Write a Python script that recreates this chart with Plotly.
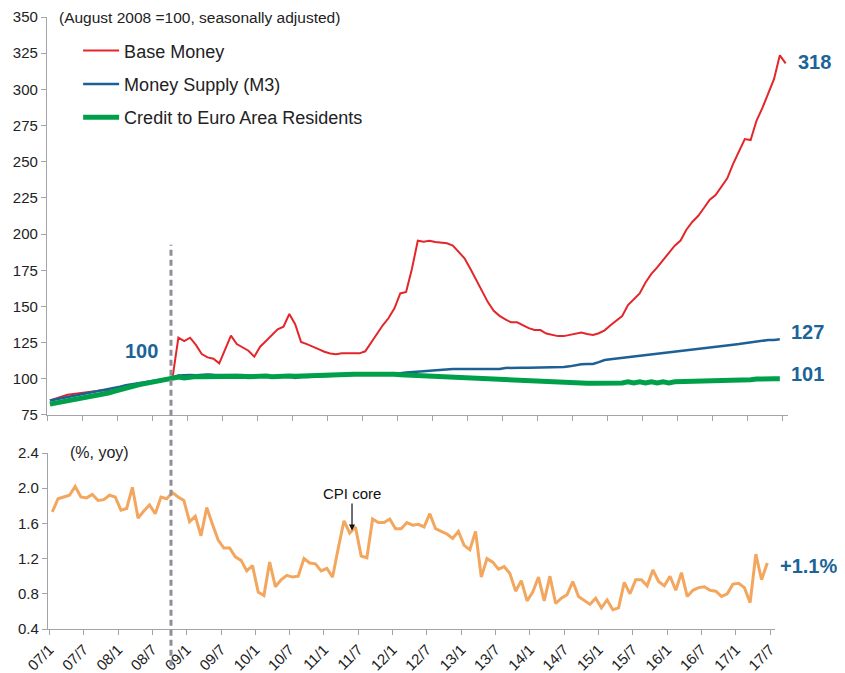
import plotly.graph_objects as go

# ---------------- data ----------------
tick_labels = ["07/1", "07/7", "08/1", "08/7", "09/1", "09/7", "10/1", "10/7", "11/1", "11/7",
               "12/1", "12/7", "13/1", "13/7", "14/1", "14/7", "15/1", "15/7", "16/1", "16/7",
               "17/1", "17/7"]

base_money = [85, 86.5, 88, 89, 89.5, 90, 90.5, 91, 91.5, 92, 91.5, 91.3, 92, 93.2, 95.3, 96.3, 97, 97.5, 98, 98.8,
              99.5, 100.8, 128.4, 126, 128.4, 123.4, 117.1, 114.8, 113.9, 110.7, 120, 129.8, 124, 121.7, 119.4, 115.3,
              122.2, 126.1, 130, 134.2, 136, 144.8, 137.7, 125.5, 124, 122.5, 120.5, 118.7, 117.5, 116.9, 117.6, 117.6,
              117.6, 117.6, 119, 125, 131, 137, 142, 148.7, 159, 160, 176, 195.4, 194.7, 195.4, 194.5, 194, 193.6, 192,
              187.4, 183.3, 176, 168, 161, 153, 147, 143.5, 141, 139, 139, 137, 135, 133.7, 133.7, 131.3, 130.3, 129.5,
              129.5, 130.5, 131.3, 132, 131, 130.3, 131.5, 133.5, 137, 140.5, 143.4, 151, 155, 159, 166.5, 172.5, 177,
              182, 187, 192, 195.5, 203, 208.4, 212.5, 218, 223.8, 227, 233, 238.5, 248.5, 257, 265.7, 265, 278.3, 287,
              297, 307, 323.5, 318]

money_m3 = [85, 85.8, 86.6, 87.4, 88.1, 88.8, 89.5, 90.2, 90.9, 91.7, 92.5, 93.5, 94.5, 95.5, 96.2, 97, 97.7, 98.3,
            98.9, 99.5, 100, 100.8, 102.3, 102.6, 102.6, 102.5, 102.8, 103, 102.8, 102.6, 102.6, 102.6, 102.6, 102.5,
            102.3, 102, 101.8, 101.5, 101.5, 101.3, 101.8, 101.5, 100.5, 101.2, 101.3, 101.5, 101.8, 102, 102.2, 102.5,
            102.8, 103, 103, 103.2, 103.3, 103.3, 103.3, 103.3, 103.5, 103.5, 103.8, 104.3, 104.8, 105, 105.3, 105.6,
            106, 106.3, 106.6, 106.8, 106.8, 106.8, 106.8, 106.8, 106.8, 106.8, 106.8, 106.8, 107.5, 107.7, 107.7,
            107.7, 107.7, 107.7, 107.7, 107.7, 107.7, 107.7, 108.2, 108.6, 109.4, 110, 110.2, 110.3, 111.5, 113, 113.5,
            114, 114.3, 114.8, 115.3, 115.8, 116.3, 116.7, 117.3, 117.8, 118.3, 118.8, 119.4, 119.8, 120.2, 120.6,
            121.2, 121.8, 122.3, 122.8, 123.3, 123.6, 124, 124.6, 125.2, 125.6, 126.3, 126.8, 126.8, 127.3]

credit = [82.5, 83.2, 83.9, 84.6, 85.3, 86, 86.8, 87.6, 88.4, 89.2, 90.2, 91.4, 92.6, 93.8, 94.8, 95.7, 96.5, 97.3,
          98, 98.7, 99.4, 100.5, 101.2, 100.6, 101.4, 101.5, 101.5, 101.6, 101.6, 101.5, 101.7, 101.5, 101.6, 101.8,
          101.4, 101.8, 101.6, 101.9, 101.5, 101.9, 101.8, 102, 101.8, 102, 102.3, 102.6, 102.6, 102.6, 102.8, 103.2,
          103.2, 103.3, 103.2, 103.1, 103.2, 103.3, 103.3, 103.3, 103.3, 103.2, 102.8, 102.6, 102.6, 102.6, 102.6,
          102.4, 101.8, 101.4, 101, 100.8, 100.8, 100.8, 100.8, 100.6, 100.3, 99.8, 99.6, 99.4, 99.2, 99.2, 99.2,
          98.9, 98.6, 98.5, 98.4, 98, 97.6, 97.5, 97.4, 97.2, 97, 96.9, 96.9, 96.9, 96.9, 96.9, 96.9, 96.9, 97.1,
          97.9, 97.2, 97.9, 97.1, 97.9, 97.2, 97.9, 97.2, 97.9, 98, 98, 98, 98, 98, 98, 98.1, 98.6, 98.8, 99.1, 99.2,
          99.3, 99.3, 99.8, 100.1, 100.1, 100.1, 100.1]

cpi_core = [1.73, 1.88, 1.90, 1.92, 2.02, 1.90, 1.89, 1.93, 1.86, 1.87,
            1.92, 1.90, 1.75, 1.77, 2.01, 1.66, 1.74, 1.81, 1.71, 1.90,
            1.88, 1.95, 1.90, 1.86, 1.62, 1.68, 1.46, 1.78, 1.59, 1.41,
            1.32, 1.32, 1.22, 1.18, 1.06, 1.12, 0.82, 0.78, 1.16, 0.88,
            0.96, 1.01, 0.99, 1.00, 1.20, 1.15, 1.14, 1.06, 1.09, 0.99,
            1.32, 1.63, 1.49, 1.56, 1.23, 1.21, 1.65, 1.61, 1.61, 1.65,
            1.54, 1.54, 1.61, 1.58, 1.59, 1.56, 1.71, 1.54, 1.51, 1.48,
            1.43, 1.51, 1.35, 1.30, 1.51, 0.99, 1.20, 1.16, 1.08, 1.11,
            1.03, 0.83, 0.95, 0.72, 0.82, 0.99, 0.72, 1.00, 0.69, 0.75,
            0.79, 0.94, 0.77, 0.72, 0.68, 0.75, 0.64, 0.73, 0.62, 0.64,
            0.93, 0.80, 0.96, 0.96, 0.89, 1.07, 0.94, 0.89, 1.00, 0.84,
            1.04, 0.77, 0.84, 0.87, 0.88, 0.84, 0.83, 0.77, 0.80, 0.91,
            0.92, 0.87, 0.70, 1.25, 0.96, 1.15]

# month index (0 = Jan 2007)
def idx(series):
    return list(range(len(series)))

tick_vals = [6 * k - 0.5 for k in range(len(tick_labels))]
lehman_month = 20.75

# ---------------- style ----------------
FONT = "Arial, Liberation Sans, Helvetica, sans-serif"
RED = "#E4262B"
BLUE = "#1D6096"
GREEN = "#00A04B"
ORANGE = "#F3A65E"
LABEL = "#1C6497"
AXIS = "#A3A4AA"

fig = go.Figure()
fig.add_trace(go.Scatter(x=idx(base_money), y=base_money, mode="lines", name="Base Money",
                         line=dict(color=RED, width=2), xaxis="x", yaxis="y", legendgroup="a"))
fig.add_trace(go.Scatter(x=idx(money_m3), y=money_m3, mode="lines", name="Money Supply (M3)",
                         line=dict(color=BLUE, width=2.5), xaxis="x", yaxis="y", legendgroup="b"))
fig.add_trace(go.Scatter(x=idx(credit), y=credit, mode="lines", name="Credit to Euro Area Residents",
                         line=dict(color=GREEN, width=5), xaxis="x", yaxis="y", legendgroup="c"))
fig.add_trace(go.Scatter(x=idx(cpi_core), y=cpi_core, mode="lines", name="CPI core", showlegend=False,
                         line=dict(color=ORANGE, width=3), xaxis="x2", yaxis="y2"))

axis_common = dict(showgrid=False, zeroline=False, showline=True, linecolor=AXIS, linewidth=1.2,
                   ticks="outside", tickcolor=AXIS, tickwidth=1.2, ticklen=5,
                   tickfont=dict(family=FONT, size=15, color="#222222"))

fig.update_layout(
    width=837, height=665,
    margin=dict(l=39, r=57, t=9, b=44),
    paper_bgcolor="white", plot_bgcolor="white",
    font=dict(family=FONT, color="#222222"),
    xaxis=dict(domain=[0, 1], range=[-0.5, 126.4], tickvals=tick_vals, showticklabels=False,
               anchor="y", automargin=False, **axis_common),
    yaxis=dict(domain=[0.3497, 1.0], range=[75, 350], tickvals=list(range(75, 351, 25)),
               anchor="x", automargin=False, **axis_common),
    xaxis2=dict(domain=[0.00135, 0.98246], range=[-0.75, 126.35], tickvals=tick_vals, ticktext=tick_labels,
                tickangle=-45, anchor="y2", automargin=False, **axis_common),
    yaxis2=dict(domain=[0.0, 0.28758], range=[0.4, 2.4], tickvals=[0.4, 0.8, 1.2, 1.6, 2.0, 2.4],
                tickformat=".1f", anchor="x2", automargin=False, **axis_common),
    legend=dict(x=0.042, y=0.975, xanchor="left", yanchor="top", bgcolor="rgba(0,0,0,0)",
                font=dict(family=FONT, size=18, color="#222222"), itemwidth=36, tracegroupgap=7,
                traceorder="grouped"),
    showlegend=True,
)

fig.add_shape(type="line", xref="x2", yref="paper", x0=lehman_month, x1=lehman_month, y0=-0.06, y1=0.628,
              line=dict(color="#8E9099", width=3, dash="6px,4px"))

ann = []
ann.append(dict(text="(August 2008 =100, seasonally adjusted)", xref="paper", yref="paper",
                x=0.0135, y=0.999, xanchor="left", yanchor="middle", showarrow=False,
                font=dict(family=FONT, size=15.5, color="#222222")))
ann.append(dict(text="(%, yoy)", xref="paper", yref="paper", x=0.0283, y=0.2892,
                xanchor="left", yanchor="middle", showarrow=False,
                font=dict(family=FONT, size=16, color="#222222")))
bold = dict(family=FONT, size=20, color=LABEL, weight="bold")
ann.append(dict(text="<b>318</b>", xref="x", yref="y", x=len(base_money) - 1, y=318.9, xanchor="left",
                yanchor="middle", xshift=10, showarrow=False, font=bold))
ann.append(dict(text="<b>127</b>", xref="x", yref="y", x=len(money_m3) - 1, y=132.3, xanchor="left",
                yanchor="middle", xshift=9, showarrow=False, font=bold))
ann.append(dict(text="<b>101</b>", xref="x", yref="y", x=len(credit) - 1, y=103.3, xanchor="left",
                yanchor="middle", xshift=9, showarrow=False, font=bold))
ann.append(dict(text="<b>100</b>", xref="x", yref="y", x=15.6, y=119.2, xanchor="center",
                yanchor="middle", showarrow=False, font=bold))
ann.append(dict(text="<b>+1.1%</b>", xref="x2", yref="y2", x=len(cpi_core) - 1, y=1.116, xanchor="left",
                yanchor="middle", xshift=11, showarrow=False, font=bold))
ann.append(dict(text="CPI core", xref="x2", yref="y2", x=52.4, y=1.52, ax=0, ay=-37,
                showarrow=True, arrowhead=2, arrowsize=1, arrowwidth=1.2, arrowcolor="#111111",
                font=dict(family=FONT, size=15, color="#111111")))
fig.update_layout(annotations=ann)

fig.write_html("out.html")
